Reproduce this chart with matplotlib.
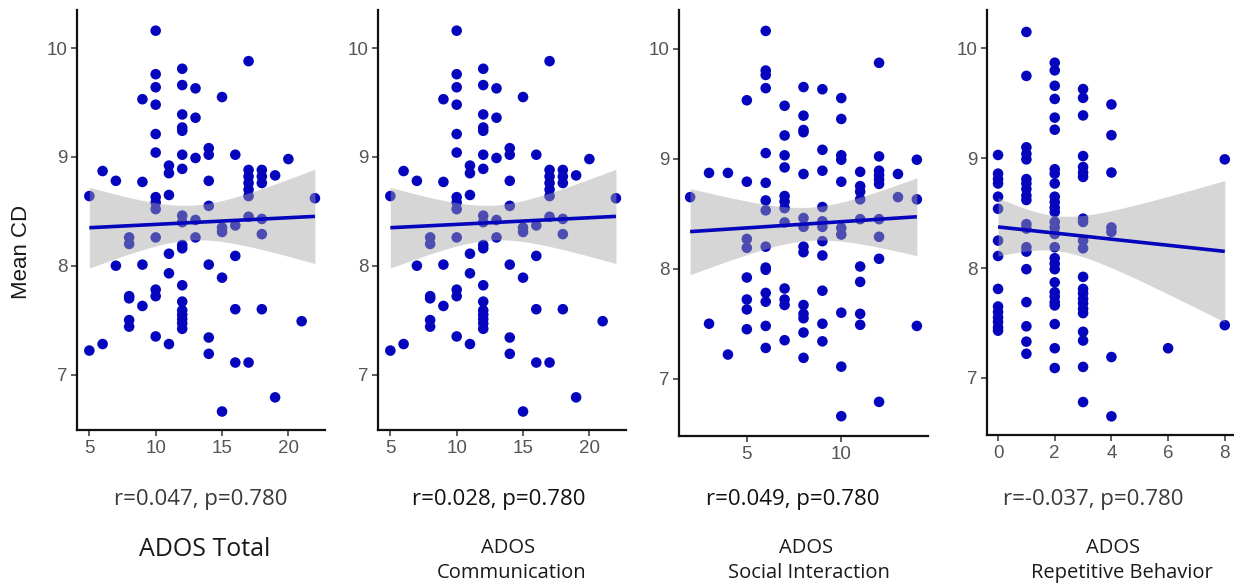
import numpy as np
import matplotlib
matplotlib.use('Agg')
import matplotlib.pyplot as plt

# ---------------- data ----------------
# Mean CD values grouped by the ADOS score on the x axis
total_groups = {
    5: [8.64, 7.22], 6: [8.87, 7.28], 7: [8.78, 8.00],
    8: [8.26, 8.20, 7.72, 7.70, 7.50, 7.44],
    9: [9.53, 8.77, 8.01, 7.63],
    10: [10.16, 9.76, 9.64, 9.48, 9.21, 9.04, 8.63, 8.58, 8.52, 8.26, 7.78, 7.72, 7.35],
    11: [8.92, 8.85, 8.65, 8.11, 7.93, 7.28],
    12: [9.81, 9.66, 9.39, 9.27, 9.24, 9.02, 8.89, 8.46, 8.40, 8.19, 8.16, 7.82,
         7.67, 7.59, 7.55, 7.51, 7.47, 7.42],
    13: [9.63, 9.36, 8.99, 8.42, 8.26],
    14: [9.08, 9.02, 8.78, 8.55, 8.01, 7.34, 7.19],
    15: [9.55, 8.35, 8.31, 7.89, 6.66],
    16: [9.02, 8.37, 8.09, 7.60, 7.11],
    17: [9.88, 8.88, 8.82, 8.76, 8.70, 8.64, 8.45, 7.11],
    18: [8.88, 8.82, 8.76, 8.43, 8.29, 7.60],
    19: [8.83, 6.79], 20: [8.98], 21: [7.49], 22: [8.62],
}
# the Communication panel shows the same scatter as the Total panel
comm_groups = dict(total_groups)
social_groups = {
    2: [8.65], 3: [8.87, 7.50], 4: [8.87, 7.22],
    5: [9.53, 8.79, 8.27, 8.19, 7.92, 7.72, 7.63, 7.45],
    6: [10.16, 9.80, 9.76, 9.64, 9.05, 8.78, 8.62, 8.53, 8.20, 8.01, 7.99, 7.78,
        7.70, 7.48, 7.28],
    7: [9.48, 9.21, 9.03, 8.92, 8.66, 8.61, 8.55, 8.42, 7.82, 7.72, 7.67, 7.35],
    8: [9.65, 9.39, 9.26, 9.24, 8.86, 8.46, 8.38, 8.20, 8.15, 7.67, 7.59, 7.55,
        7.42, 7.19],
    9: [9.63, 9.08, 8.89, 8.56, 8.43, 8.38, 8.25, 8.12, 7.80, 7.50, 7.34],
    10: [9.55, 9.36, 9.03, 8.99, 8.79, 8.37, 8.31, 7.60, 7.11, 6.66],
    11: [8.88, 8.75, 8.70, 8.63, 8.45, 8.02, 7.88, 7.59, 7.49],
    12: [9.87, 9.02, 8.89, 8.85, 8.81, 8.77, 8.45, 8.29, 8.09, 6.79],
    13: [8.86, 8.65], 14: [8.99, 8.63, 7.48],
}
rep_groups = {
    0: [9.03, 8.86, 8.81, 8.77, 8.65, 8.54, 8.25, 8.11, 7.81, 7.65, 7.60, 7.55,
        7.51, 7.46, 7.43],
    1: [10.15, 9.75, 9.10, 9.04, 8.99, 8.81, 8.77, 8.72, 8.66, 8.62, 8.40, 8.36,
        8.19, 8.15, 7.99, 7.69, 7.47, 7.33, 7.22],
    2: [9.87, 9.80, 9.66, 9.54, 9.37, 9.26, 8.90, 8.86, 8.77, 8.65, 8.60, 8.55,
        8.51, 8.42, 8.37, 8.31, 8.19, 8.09, 8.04, 7.99, 7.87, 7.78, 7.74, 7.69,
        7.66, 7.49, 7.27, 7.09],
    3: [9.63, 9.55, 9.39, 9.02, 8.92, 8.87, 8.83, 8.45, 8.42, 8.25, 8.18, 7.92,
        7.81, 7.77, 7.72, 7.68, 7.63, 7.59, 7.42, 7.34, 7.10, 6.78],
    4: [9.49, 9.21, 8.87, 8.37, 8.33, 7.19, 6.65],
    6: [7.27],
    8: [8.99, 7.48],
}

stat_labels = ["r=0.047, p=0.780", "r=0.028, p=0.780",
               "r=0.049, p=0.780", "r=-0.037, p=0.780"]
title_labels = ["ADOS Total", "ADOS\nCommunication",
                "ADOS\nSocial Interaction", "ADOS\nRepetitive Behavior"]
x_ticks = [[5, 10, 15, 20], [5, 10, 15, 20], [5, 10], [0, 2, 4, 6, 8]]
y_ticks = [7, 8, 9, 10]
y_label = "Mean CD"

# ---------------- styling ----------------
BLUE = '#0505bd'
W, H = 1234, 585
fig = plt.figure(figsize=(W / 100, H / 100), dpi=100)


def px_axes(l, t, r, b):
    return fig.add_axes([l / W, 1 - b / H, (r - l) / W, (b - t) / H])


panels = [
    dict(groups=total_groups, box=(77, 10, 325, 430), xlim=(4.07, 22.76),
         ylim=(6.49, 10.35), cx=201, sc='#3a3a3a', tx=(205, 205)),
    dict(groups=comm_groups, box=(378, 10, 626, 430), xlim=(4.07, 22.76),
         ylim=(6.49, 10.35), cx=499, sc='#111111', tx=(508, 512)),
    dict(groups=social_groups, box=(679, 10, 928, 436), xlim=(1.41, 14.59),
         ylim=(6.48, 10.35), cx=793, sc='#111111', tx=(806, 809)),
    dict(groups=rep_groups, box=(987, 10, 1233, 435), xlim=(-0.39, 8.29),
         ylim=(6.48, 10.35), cx=1093, sc='#3a3a3a', tx=(1113, 1122)),
]

T_CRIT = 1.985  # 95% two-sided t quantile, df ~ 90-100

for i, p in enumerate(panels):
    ax = px_axes(*p['box'])
    xs = np.concatenate([[k] * len(v) for k, v in p['groups'].items()]).astype(float)
    ys = np.concatenate([v for v in p['groups'].values()]).astype(float)

    ax.scatter(xs, ys, s=58, color=BLUE, edgecolors='none', zorder=2)

    # linear fit with 95% confidence band
    n = len(xs)
    b1, b0 = np.polyfit(xs, ys, 1)
    resid = ys - (b0 + b1 * xs)
    s = np.sqrt(np.sum(resid ** 2) / (n - 2))
    xbar = xs.mean()
    sxx = np.sum((xs - xbar) ** 2)
    grid = np.linspace(xs.min(), xs.max(), 200)
    fit = b0 + b1 * grid
    se = s * np.sqrt(1 / n + (grid - xbar) ** 2 / sxx)
    ax.fill_between(grid, fit - T_CRIT * se, fit + T_CRIT * se,
                    color='#a4a4a4', alpha=0.45, lw=0, zorder=3)
    ax.plot(grid, fit, color=BLUE, lw=2.6, zorder=4, solid_capstyle='butt')

    ax.set_xlim(*p['xlim'])
    ax.set_ylim(*p['ylim'])
    ax.set_xticks(x_ticks[i])
    ax.set_yticks(y_ticks)
    for sp in ['top', 'right']:
        ax.spines[sp].set_visible(False)
    for sp in ['left', 'bottom']:
        ax.spines[sp].set_linewidth(1.6)
        ax.spines[sp].set_color('#111111')
    ax.tick_params(length=4, width=1.1, color='#333333', labelsize=13.5,
                   labelcolor='#555555', pad=3)
    for lab in ax.get_xticklabels() + ax.get_yticklabels():
        lab.set_fontfamily('Liberation Sans')
    ax.set_facecolor('none')

    fig.text(p['cx'] / W, 1 - 500 / H, stat_labels[i], ha='center', va='center',
             fontsize=16, color=p['sc'], family='Open Sans')
    if i == 0:
        fig.text(p['tx'][0] / W, 1 - 550 / H, title_labels[i], ha='center',
                 va='center', fontsize=18, color='#1a1a1a', family='Open Sans')
    else:
        top, bot = title_labels[i].split('\n')
        fig.text(p['tx'][0] / W, 1 - 548 / H, top, ha='center', va='center',
                 fontsize=14.5, color='#1a1a1a', family='Open Sans')
        fig.text(p['tx'][1] / W, 1 - 573 / H, bot, ha='center', va='center',
                 fontsize=14.5, color='#1a1a1a', family='Open Sans')

fig.text(22 / W, 1 - 252 / H, y_label, rotation=90, ha='center', va='center',
         fontsize=16, color='#1a1a1a', family='Liberation Sans')

fig.savefig('out.png', dpi=100)
